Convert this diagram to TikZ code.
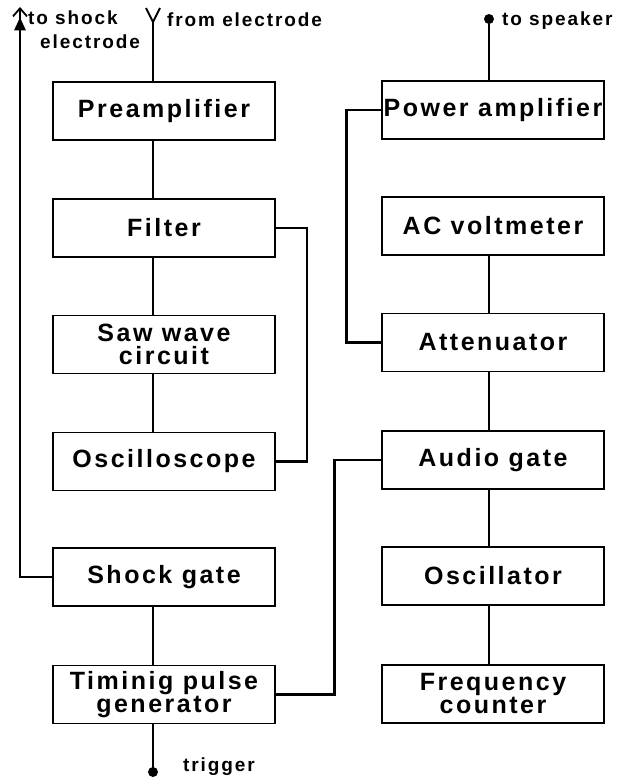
\documentclass[tikz,border=0pt]{standalone}
\usepackage{fontspec}
\usetikzlibrary{arrows.meta}
\newfontfamily\boxfont{Liberation Sans}[LetterSpace=10]
\newfontfamily\labelfont{Liberation Sans}[LetterSpace=10]

\begin{document}
\begin{tikzpicture}[x=1pt, y=-1pt,
    unit/.style={draw, line width=1.6pt, minimum width=222pt, minimum height=58pt,
      inner sep=0pt, align=center, font=\boxfont\bfseries\fontsize{25}{23}\selectfont},
    wire/.style={line width=2.6pt},
    lab/.style={font=\labelfont\bfseries\fontsize{19}{24}\selectfont, inner sep=0pt}]
  \useasboundingbox (0,0) rectangle (617,784);
  % left chain
  \node[unit] (pre)  at (164,111)   {Preamplifier};
  \node[unit] (filt) at (164,228)   {Filter};
  \node[unit] (saw)  at (164,344.5) {Saw wave\\circuit};
  \node[unit] (osc)  at (164,461.5) {Oscilloscope};
  \node[unit] (shk)  at (164,577)   {Shock gate};
  \node[unit] (tim)  at (164,694.5) {Timinig pulse\\generator};
  % right chain
  \node[unit] (pwr)  at (493,110)   {Power amplifier};
  \node[unit] (acv)  at (493,226)   {AC voltmeter};
  \node[unit] (att)  at (493,342.5) {Attenuator};
  \node[unit] (aud)  at (493,460)   {Audio gate};
  \node[unit] (oscl) at (493,576)   {Oscillator};
  \node[unit] (frq)  at (493,694)   {Frequency\\counter};
  % spines
  \coordinate (sL) at (153,0);
  \coordinate (sR) at (489,0);
  \foreach \a/\b in {pre/filt, filt/saw, saw/osc, shk/tim}
    \draw[wire] (\a.south -| sL) -- (\b.north -| sL);
  \foreach \a/\b in {acv/att, att/aud, aud/oscl, oscl/frq}
    \draw[wire] (\a.south -| sR) -- (\b.north -| sR);
  % feedback wires
  \draw[wire] (filt.east) -- ++(31,0) |- (osc.east);
  \draw[wire] (pwr.west) -- ++(-35,0) |- (att.west);
  \draw[wire] (aud.west) -- ++(-47,0) |- (tim.east);
  % inputs and outputs
  \coordinate (shktip) at (20,7);
  \draw[wire, -{Triangle[width=11pt,length=13pt] Straight Barb[width=14pt,length=8pt,line width=1.8pt]}]
    (shk.west) -| (shktip);
  \coordinate (fork) at (153,22);
  \coordinate (armA) at (146,8);
  \coordinate (armB) at (160,8);
  \draw[wire] (pre.north -| fork) -- (fork);
  \draw[line width=2pt] (armA) -- (fork) -- (armB);
  \coordinate (spk) at (489,19);
  \fill (spk) circle (5pt);
  \draw[wire] (spk) -- (pwr.north -| spk);
  \coordinate (trg) at (153,772);
  \fill (trg) circle (5pt);
  \draw[wire] (tim.south -| trg) -- (trg);
  % labels
  \node[lab, anchor=north west, align=left] (shklab) at (28,11) {to shock\\\hspace{12pt}electrode};
  \node[lab, anchor=base west] (frmlab) at (167,27) {from electrode};
  \node[lab, anchor=base west] (spklab) at (502,26) {to speaker};
  \node[lab, anchor=base west] (trglab) at (183,771) {trigger};
\end{tikzpicture}
\end{document}
